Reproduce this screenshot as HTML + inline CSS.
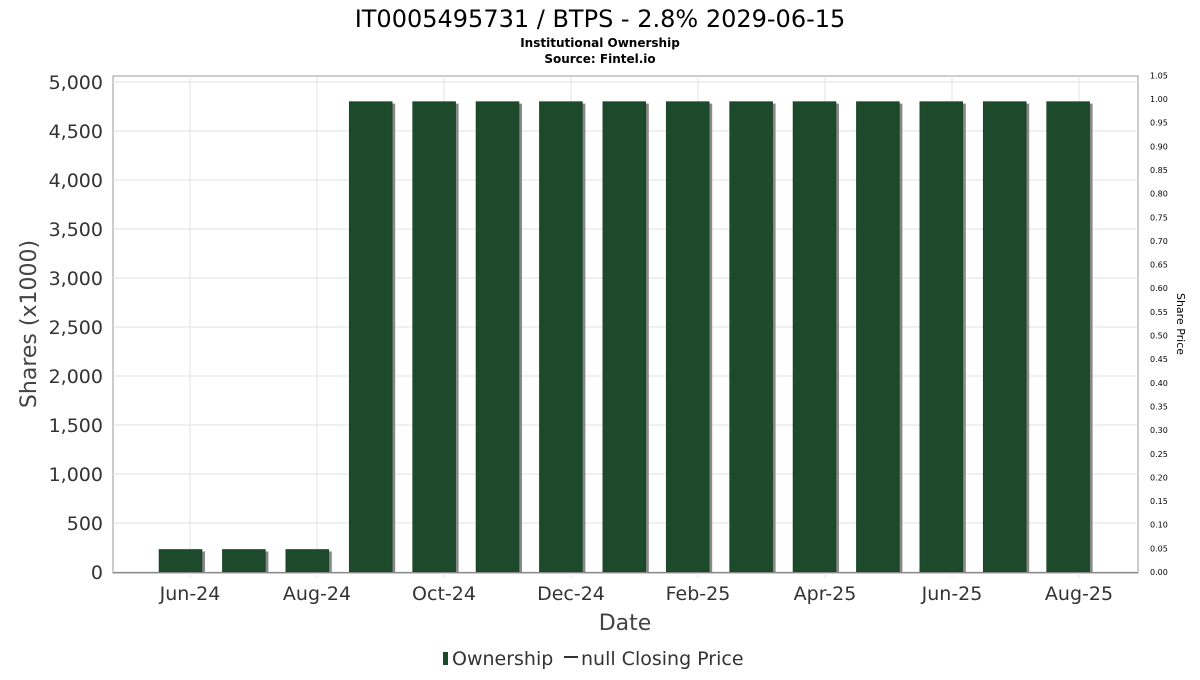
<!DOCTYPE html>
<html><head><meta charset="utf-8"><style>
body{margin:0;background:#fff;}
svg text{font-family:"DejaVu Sans","Liberation Sans",sans-serif;}
</style></head><body>
<svg id="chart" width="1200" height="675" xmlns="http://www.w3.org/2000/svg">
<text x="600" y="27" text-anchor="middle" font-size="24" fill="#000">IT0005495731 / BTPS - 2.8% 2029-06-15</text>
<text x="600" y="47" text-anchor="middle" font-size="12" font-weight="bold">Institutional Ownership</text>
<text x="600" y="63" text-anchor="middle" font-size="12" font-weight="bold">Source: Fintel.io</text>
<rect x="113" y="76" width="1025" height="497" fill="#fff" stroke="#999"/>
<g id="grid"></g><g id="bars"></g><g id="axes"></g>
<text transform="translate(36,324) rotate(-90)" text-anchor="middle" font-size="22" fill="#444">Shares (x1000)</text>
<text transform="translate(1177,324) rotate(90)" text-anchor="middle" font-size="11" fill="#000">Share Price</text>
<text x="625" y="630" text-anchor="middle" font-size="22" fill="#444">Date</text>
<g>
<rect x="443" y="652" width="5" height="13" fill="#1a4a28"/>
<text x="452" y="665" font-size="19" fill="#333">Ownership</text>
<line x1="564" y1="657" x2="578" y2="657" stroke="#333" stroke-width="2"/>
<text x="581" y="665" font-size="19" fill="#333">null Closing Price</text>
</g>
</svg>
<script>
const barValues=[230,230,230,4800,4800,4800,4800,4800,4800,4800,4800,4800,4800,4800,4800];
const yTicks=[0,500,1000,1500,2000,2500,3000,3500,4000,4500,5000];
const y2Ticks=[0,0.05,0.1,0.15,0.2,0.25,0.3,0.35,0.4,0.45,0.5,0.55,0.6,0.65,0.7,0.75,0.8,0.85,0.9,0.95,1.0,1.05];
const xLabels=["Jun-24","Aug-24","Oct-24","Dec-24","Feb-25","Apr-25","Jun-25","Aug-25"];
const ns="http://www.w3.org/2000/svg";
const y=v=>572-v*0.098;
const y2=v=>572-v*473;
const bx=i=>180.5+i*63.4;
const lx=i=>190+i*127;
function mk(t,a,p){const e=document.createElementNS(ns,t);for(const k in a)e.setAttribute(k,a[k]);p.appendChild(e);return e;}
const grid=document.getElementById('grid'),bars=document.getElementById('bars'),axes=document.getElementById('axes');
yTicks.forEach(v=>{
 const l=mk('line',{x1:113,x2:1138,y1:y(v),y2:y(v),stroke:'#e2e2e2'},grid);
 
 
 const t=mk('text',{x:103,y:y(v)+7,'text-anchor':'end','font-size':19,fill:'#333'},axes);
 t.textContent=v.toLocaleString('en-US');
 
 
});
xLabels.forEach((s,i)=>{
 const l=mk('line',{x1:lx(i),x2:lx(i),y1:76,y2:578,stroke:'#e2e2e2'},grid);
 
 
 const t=mk('text',{x:lx(i),y:600,'text-anchor':'middle','font-size':19,fill:'#333'},axes);
 t.textContent=s;
 
 
});
y2Ticks.forEach(v=>{
 const t=mk('text',{x:1150,y:y2(v)+3,'font-size':8,fill:'#000'},axes);
 t.textContent=v.toFixed(2);
 
 
});
const base=mk('line',{x1:113,x2:1138,y1:572.5,y2:572.5,stroke:'#888'},axes);


barValues.forEach((v,i)=>{
 const w=43,x=bx(i)-w/2;
 const sh=mk('rect',{x:x+3,y:y(v)+2,width:w,height:572-y(v)-2,fill:'#888'},bars);
 
 
 const r=mk('rect',{x:x,y:y(v),width:w,height:572-y(v),fill:'#1c4a2a',stroke:'#133a1f','stroke-width':0.5},bars);
 
 
});
</script>
</body></html>
